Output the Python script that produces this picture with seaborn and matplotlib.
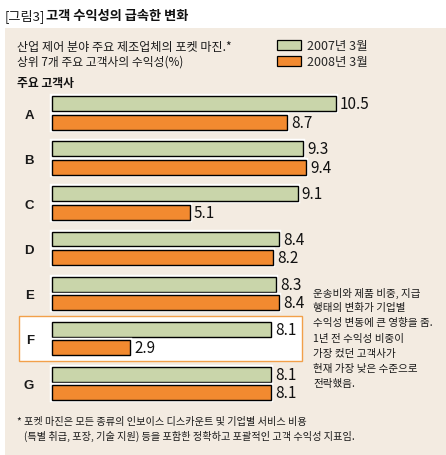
import matplotlib
matplotlib.use("Agg")
import matplotlib.pyplot as plt
import matplotlib.patheffects as pe
from matplotlib.patches import Rectangle, Patch
import seaborn as sns
import pandas as pd

# 데이터
customers = ["A", "B", "C", "D", "E", "F", "G"]
years = ["2007년 3월", "2008년 3월"]
margin_2007 = [10.5, 9.3, 9.1, 8.4, 8.3, 8.1, 8.1]
margin_2008 = [8.7, 9.4, 5.1, 8.2, 8.4, 2.9, 8.1]
highlight = "F"

title_tag = "[그림3]"
title_main = "고객 수익성의 급속한 변화"
subtitle = ["산업 제어 분야 주요 제조업체의 포켓 마진.*", "상위 7개 주요 고객사의 수익성(%)"]
axis_title = "주요 고객사"
note_lines = ["운송비와 제품 비중, 지급", "행태의 변화가 기업별", "수익성 변동에 큰 영향을 줌.",
              "1년 전 수익성 비중이", "가장 컸던 고객사가", "현재 가장 낮은 수준으로", "전락했음."]
footnote = ["* 포켓 마진은 모든 종류의 인보이스 디스카운트 및 기업별 서비스 비용",
            "(특별 취급, 포장, 기술 지원) 등을 포함한 정확하고 포괄적인 고객 수익성 지표임."]

GREEN = "#C9D5AA"
ORANGE = "#F28A30"
BEIGE = "#F3EBE1"
NARROW = ["Liberation Sans Narrow", "Noto Sans CJK KR", "DejaVu Sans"]

df = pd.DataFrame({
    "customer": customers * 2,
    "year": [years[0]] * len(customers) + [years[1]] * len(customers),
    "value": margin_2007 + margin_2008,
})

sns.set_theme(style="white")
plt.rcParams["font.family"] = ["Noto Sans CJK KR", "DejaVu Sans"]

W, H = 446, 456
fig = plt.figure(figsize=(W / 100, H / 100), dpi=100)
fig.patch.set_facecolor("white")

# 베이지 배경 패널
fig.patches.append(Rectangle((5 / W, 0), 1 - 5 / W, (H - 29) / H, transform=fig.transFigure,
                             facecolor=BEIGE, edgecolor="none", zorder=-5))

# 막대 영역 (픽셀 기준 배치)
ax_left, ax_right, ax_top, ax_bot = 52, 349, 91.5, 407
ax = fig.add_axes([ax_left / W, (H - ax_bot) / H, (ax_right - ax_left) / W, (ax_bot - ax_top) / H])
ax.set_facecolor("none")
ax.set_zorder(1)

sns.barplot(data=df, x="value", y="customer", hue="year", orient="h",
            palette=[GREEN, ORANGE], saturation=1, width=0.82, gap=0.19,
            edgecolor="black", linewidth=1.0, ax=ax, legend=False)

for p in ax.patches:
    p.set_path_effects([pe.Stroke(linewidth=3.2, foreground="white"), pe.Normal()])
    p.set_clip_on(False)
    p.set_zorder(2)

for cont in ax.containers:
    ax.bar_label(cont, fmt="%.1f", padding=3, fontsize=11, family=NARROW, color="#111111")

ax.set_xlim(0, 11)
ax.set_ylim(6.5, -0.5)
ax.set_xlabel("")
ax.set_ylabel("")
ax.set_xticks([])
ax.tick_params(axis="y", length=0, pad=13, labelsize=9.5)
for t in ax.get_yticklabels():
    t.set_family(["Liberation Sans", "DejaVu Sans"])
    t.set_fontweight("bold")
    t.set_color("#1a1a1a")
sns.despine(ax=ax, left=True, bottom=True)

# F 강조 박스
fi = customers.index(highlight)
ax.add_patch(Rectangle(((19 - ax_left) / 27, fi - 0.5), (302 - 19) / 27, 1.0,
                       facecolor="white", edgecolor="#F2A04A", linewidth=1.0,
                       clip_on=False, zorder=0.5))

# 범례
handles = [Patch(facecolor=c, edgecolor="black", linewidth=0.9) for c in [GREEN, ORANGE]]
fig.legend(handles=handles, labels=years, loc="upper left",
           bbox_to_anchor=(277 / W, 1 - 40 / H), bbox_transform=fig.transFigure,
           frameon=False, borderpad=0, borderaxespad=0, handlelength=1.9, handleheight=0.85,
           handletextpad=0.5, labelspacing=0.25, prop={"family": NARROW, "size": 9})

# 텍스트
def px(x, y):
    return x / W, 1 - y / H

TXT = "#1a1a1a"
fig.text(*px(5, 16), title_tag, fontsize=9.5, va="center", ha="left", color=TXT)
fig.text(*px(46, 16), title_main, fontsize=9.5, va="center", ha="left", fontweight="bold", color="#111111")
fig.text(*px(17, 48), subtitle[0], fontsize=8.7, va="center", ha="left", color=TXT, fontweight="medium")
fig.text(*px(17, 62), subtitle[1], fontsize=8.5, va="center", ha="left", color=TXT, fontweight="medium")
fig.text(*px(17, 84), axis_title, fontsize=8.5, va="center", ha="left", fontweight="bold", color="#111111")

for i, line in enumerate(note_lines):
    fig.text(*px(313, 293 + i * 15.2), line, fontsize=7.6, va="center", ha="left", color=TXT,
             fontweight="medium")

fig.text(*px(17, 422), footnote[0], fontsize=7.3, va="center", ha="left", color=TXT, fontweight="medium")
fig.text(*px(24, 436), footnote[1], fontsize=7.3, va="center", ha="left", color=TXT, fontweight="medium")

fig.savefig("out.png", dpi=100, facecolor=fig.get_facecolor())
